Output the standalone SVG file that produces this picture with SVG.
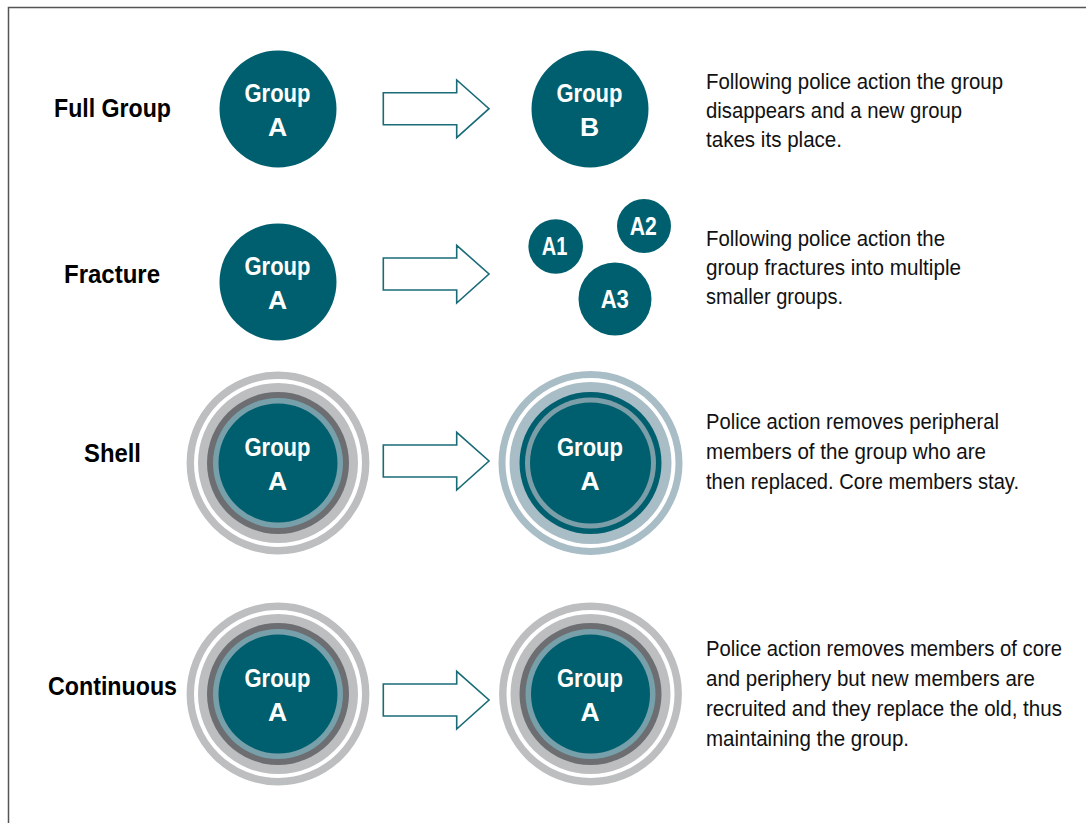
<svg xmlns="http://www.w3.org/2000/svg" width="1086" height="823" viewBox="0 0 1086 823">
<defs>
<style>
.bg{fill:#ffffff}
.frame{stroke:#555555;stroke-width:1.5;fill:none}
.teal{fill:#005f6e}
.lbl{font-family:"Liberation Sans","Arial",sans-serif;font-weight:bold;font-size:25px;fill:#000;text-anchor:middle}
.gt{font-family:"Liberation Sans","Arial",sans-serif;font-weight:bold;font-size:26.5px;fill:#fff;text-anchor:middle}
.body{font-family:"Liberation Sans","Arial",sans-serif;font-size:22px;fill:#111}
.arrow{fill:#fff;stroke:#1a6b78;stroke-width:1.6;stroke-linejoin:miter}
.ringG{fill:none;stroke:#bcbec0}
.lg{fill:#bcbec0}
.dg{fill:#6d6e71}
.lt{fill:#77a0aa}
.ringB{fill:none;stroke:#a8bdc6}
.lb{fill:#a8bdc6}
.gtl{fill:#7c9ea8}
</style>
<g id="gray-shell">
<circle r="87.7" class="ringG" stroke-width="7.4"/>
<circle r="80" class="lg"/>
<circle r="71" class="dg"/>
<circle r="65" class="lt"/>
<circle r="59.5" class="teal"/>
</g>
<g id="blue-shell">
<circle r="88.5" class="ringB" stroke-width="7"/>
<circle r="81" class="lb"/>
<circle r="71" class="teal"/>
<circle r="65.5" class="gtl"/>
<circle r="60.5" class="teal"/>
</g>
<path id="arr" d="M383.3,-16 H456.7 V-28.7 L489,0 L456.7,29 V16 H383.3 Z"/>
</defs>
<rect class="bg" x="0" y="0" width="1086" height="823"/>
<path class="frame" d="M8.5,823 V7.5 H1086"/>

<g id="labels">
<text class="lbl" x="112.5" y="117" textLength="117" lengthAdjust="spacingAndGlyphs">Full Group</text>
<text class="lbl" x="112" y="283" textLength="96" lengthAdjust="spacingAndGlyphs">Fracture</text>
<text class="lbl" x="112.5" y="462" textLength="57" lengthAdjust="spacingAndGlyphs">Shell</text>
<text class="lbl" x="112.5" y="695" textLength="129" lengthAdjust="spacingAndGlyphs">Continuous</text>
</g>

<g id="connectors">
<use href="#arr" class="arrow" transform="translate(0,108.7)"/>
<use href="#arr" class="arrow" transform="translate(0,274)"/>
<use href="#arr" class="arrow" transform="translate(0,461)"/>
<use href="#arr" class="arrow" transform="translate(0,700)"/>
</g>

<g id="full-A">
<circle class="teal" cx="278" cy="109" r="58.5"/>
<text class="gt" x="277.5" y="101.7" textLength="66" lengthAdjust="spacingAndGlyphs">Group</text>
<text class="gt" x="277.5" y="135.7">A</text>
</g>
<g id="full-B">
<circle class="teal" cx="590" cy="109" r="58.5"/>
<text class="gt" x="589.5" y="101.7" textLength="66" lengthAdjust="spacingAndGlyphs">Group</text>
<text class="gt" x="589.5" y="135.7">B</text>
</g>

<g id="fracture-A">
<circle class="teal" cx="278" cy="282" r="58.5"/>
<text class="gt" x="277.5" y="274.7" textLength="66" lengthAdjust="spacingAndGlyphs">Group</text>
<text class="gt" x="277.5" y="308.7">A</text>
</g>
<g id="A1">
<circle class="teal" cx="555.7" cy="246.5" r="27.3"/>
<text class="gt" x="554.5" y="255" textLength="25.6" lengthAdjust="spacingAndGlyphs">A1</text>
</g>
<g id="A2">
<circle class="teal" cx="644" cy="226" r="27"/>
<text class="gt" x="643.3" y="235" textLength="27" lengthAdjust="spacingAndGlyphs">A2</text>
</g>
<g id="A3">
<circle class="teal" cx="615" cy="299" r="36.5"/>
<text class="gt" x="614.8" y="308.3" textLength="28.3" lengthAdjust="spacingAndGlyphs">A3</text>
</g>

<g id="shell-A">
<use href="#gray-shell" transform="translate(278,463)"/>
<text class="gt" x="277.5" y="455.7" textLength="66" lengthAdjust="spacingAndGlyphs">Group</text>
<text class="gt" x="277.5" y="489.7">A</text>
</g>
<g id="shell-A2">
<use href="#blue-shell" transform="translate(590.5,463)"/>
<text class="gt" x="590" y="455.7" textLength="66" lengthAdjust="spacingAndGlyphs">Group</text>
<text class="gt" x="590" y="489.7">A</text>
</g>

<g id="cont-A">
<use href="#gray-shell" transform="translate(278,694)"/>
<text class="gt" x="277.5" y="686.7" textLength="66" lengthAdjust="spacingAndGlyphs">Group</text>
<text class="gt" x="277.5" y="720.7">A</text>
</g>
<g id="cont-A2">
<use href="#gray-shell" transform="translate(590.5,694)"/>
<text class="gt" x="590" y="686.7" textLength="66" lengthAdjust="spacingAndGlyphs">Group</text>
<text class="gt" x="590" y="720.7">A</text>
</g>

<g id="desc">
<text class="body" x="706" y="89" textLength="297" lengthAdjust="spacingAndGlyphs">Following police action the group</text>
<text class="body" x="706" y="118" textLength="256" lengthAdjust="spacingAndGlyphs">disappears and a new group</text>
<text class="body" x="706" y="147" textLength="136" lengthAdjust="spacingAndGlyphs">takes its place.</text>

<text class="body" x="706" y="246" textLength="239" lengthAdjust="spacingAndGlyphs">Following police action the</text>
<text class="body" x="706" y="275" textLength="255" lengthAdjust="spacingAndGlyphs">group fractures into multiple</text>
<text class="body" x="706" y="304" textLength="137" lengthAdjust="spacingAndGlyphs">smaller groups.</text>

<text class="body" x="706" y="429" textLength="293" lengthAdjust="spacingAndGlyphs">Police action removes peripheral</text>
<text class="body" x="706" y="459" textLength="280" lengthAdjust="spacingAndGlyphs">members of the group who are</text>
<text class="body" x="706" y="489" textLength="313" lengthAdjust="spacingAndGlyphs">then replaced. Core members stay.</text>

<text class="body" x="706" y="656" textLength="356" lengthAdjust="spacingAndGlyphs">Police action removes members of core</text>
<text class="body" x="706" y="686" textLength="329" lengthAdjust="spacingAndGlyphs">and periphery but new members are</text>
<text class="body" x="706" y="716" textLength="356" lengthAdjust="spacingAndGlyphs">recruited and they replace the old, thus</text>
<text class="body" x="706" y="746" textLength="203" lengthAdjust="spacingAndGlyphs">maintaining the group.</text>
</g>
</svg>
